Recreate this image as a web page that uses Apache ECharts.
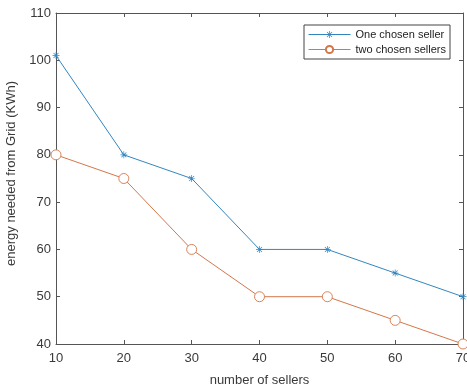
<!DOCTYPE html>
<html><head><meta charset="utf-8">
<script src="https://cdn.jsdelivr.net/npm/echarts@6/dist/echarts.min.js"></script>
<style>html,body{margin:0;padding:0;background:#fff}#c{width:467px;height:385px}</style>
</head><body><div id="c"></div>
<script>
const sellers = [10, 20, 30, 40, 50, 60, 70];
const oneChosen = [101, 80, 75, 60, 60, 55, 50];
const twoChosen = [80, 75, 60, 50, 50, 45, 40];
const seriesNames = ['One chosen seller', 'two chosen sellers'];
const xLabel = 'number of sellers';
const yLabel = 'energy needed from Grid (KWh)';

const star = 'path://M-1,-10 L1,-10 L1,10 L-1,10 Z M-10,-1 L10,-1 L10,1 L-10,1 Z M-6.36,-7.78 L7.78,6.36 L6.36,7.78 L-7.78,-6.36 Z M6.36,-7.78 L7.78,-6.36 L-6.36,7.78 L-7.78,6.36 Z';
const axisCol = '#555';
const txtCol = '#3a3a3a';
const blue = '#3385c0';
const orange = '#d4764a';
const font = 'Liberation Sans, Arial, sans-serif';
const chart = echarts.init(document.getElementById('c'));
const pair = (xs, ys) => xs.map((x, i) => [x, ys[i]]);
chart.setOption({
  animation: false,
  grid: { left: 56, right: 4, top: 13, bottom: 41, outerBoundsMode: 'none', containLabel: false },
  legend: {
    right: 17, top: 25, orient: 'vertical',
    backgroundColor: '#fff', borderColor: '#444', borderWidth: 1,
    padding: [4, 4, 4, 4], itemGap: 4, itemWidth: 42, itemHeight: 9,
    lineStyle: { width: 1 },
    textStyle: { fontFamily: font, fontSize: 11, color: '#222' },
    data: seriesNames
  },
  xAxis: [{
    type: 'value', min: 10, max: 70, interval: 10,
    name: xLabel, nameLocation: 'middle', nameGap: 30,
    nameTextStyle: { fontFamily: font, fontSize: 13, color: txtCol },
    axisLine: { lineStyle: { color: axisCol } },
    axisTick: { inside: true, length: 4, lineStyle: { color: axisCol } },
    axisLabel: { fontFamily: font, fontSize: 13, color: txtCol, margin: 8 },
    splitLine: { show: false }
  }, {
    type: 'value', min: 10, max: 70, interval: 10, position: 'top',
    axisLine: { show: true, lineStyle: { color: axisCol } },
    axisTick: { inside: true, length: 4, lineStyle: { color: axisCol } },
    axisLabel: { show: false }, splitLine: { show: false }
  }],
  yAxis: [{
    type: 'value', min: 40, max: 110, interval: 10,
    name: yLabel, nameLocation: 'middle', nameGap: 31,
    nameTextStyle: { fontFamily: font, fontSize: 13, color: txtCol, padding: [0, 0, 0, 10] },
    axisLine: { show: true, lineStyle: { color: axisCol } },
    axisTick: { show: true, inside: true, length: 4, lineStyle: { color: axisCol } },
    axisLabel: { fontFamily: font, fontSize: 13, color: txtCol, margin: 5 },
    splitLine: { show: false }
  }, {
    type: 'value', min: 40, max: 110, interval: 10, position: 'right',
    axisLine: { show: true, lineStyle: { color: axisCol } },
    axisTick: { show: true, inside: true, length: 4, lineStyle: { color: axisCol } },
    axisLabel: { show: false }, splitLine: { show: false }
  }],
  series: [{
    name: seriesNames[0], type: 'line', data: pair(sellers, oneChosen),
    color: blue, symbol: star, symbolSize: 7,
    lineStyle: { width: 1, color: blue }, itemStyle: { color: blue }
  }, {
    name: seriesNames[1], type: 'line', data: pair(sellers, twoChosen),
    color: orange, symbol: 'circle', symbolSize: 10,
    lineStyle: { width: 1, color: orange },
    itemStyle: { color: '#fff', borderColor: orange, borderWidth: 0.9 }
  }]
});
</script></body></html>
